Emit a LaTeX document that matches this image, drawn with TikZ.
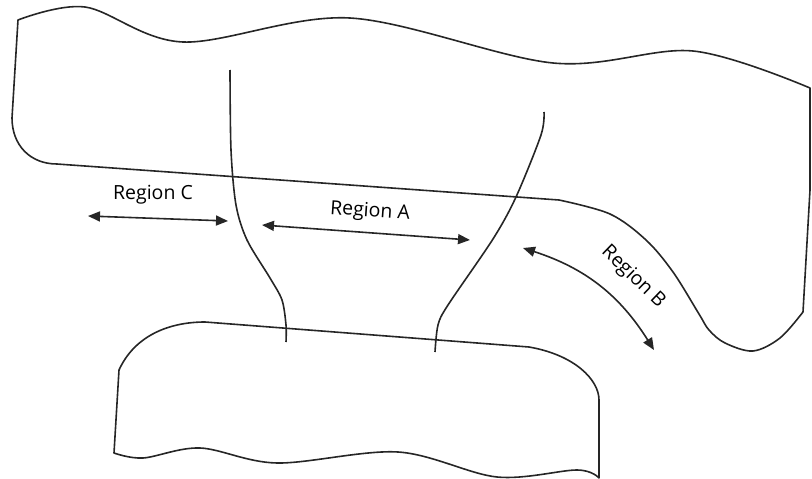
\documentclass[tikz,border=0pt]{standalone}
\usepackage{fontspec}
\setmainfont{Open Sans}
\usetikzlibrary{arrows.meta}
\begin{document}
\begin{tikzpicture}[x=1pt,y=-1pt,
  outline/.style={line width=1.6pt,black!85,line join=round},
  dim/.style={line width=1.6pt,black!85,{Triangle[length=12pt,width=10pt]}-{Triangle[length=12pt,width=10pt]}},
  lbl/.style={font=\fontsize{19.5}{22}\selectfont,inner sep=0pt}]
\useasboundingbox (0,0) rectangle (812,479);
% upper body
\draw[outline] plot[smooth,tension=0.55] coordinates {(18,20) (85,7) (183,42) (350,18) (553,63) (693,51) (810,88)}
  -- (810,190) -- (803,312)
  -- plot[smooth,tension=0.55] coordinates {(803,312) (780,338) (753,351) (725,343) (709,330) (699,314) (673,272) (646,240) (610,214) (559,200)}
  -- (57,164) .. controls (30,164) and (12,145) .. (12,118) -- cycle;
% lower body
\draw[outline] (119,370) .. controls (135,335) and (170,322) .. (205,322)
  -- (529,347) .. controls (575,355) and (599,380) .. (599,400) -- (599,478)
  -- plot[smooth,tension=0.55] coordinates {(599,478) (577,470) (497,477) (398,452) (277,463) (200,448) (143,458) (114,453)}
  -- cycle;
% dividing lines
\draw[outline] plot[smooth,tension=0.5] coordinates {(230,70) (231,150) (236,205) (247,240) (270,278) (282,300) (286,325) (286,342)};
\draw[outline] plot[smooth,tension=0.5] coordinates {(544,112) (541,135) (516,197) (493,239) (448,305) (438,325) (435,352)};
% arrows
\coordinate (c1) at (88,216); \coordinate (c2) at (228,221);
\coordinate (a1) at (262,225); \coordinate (a2) at (470,240);
\coordinate (b1) at (523,248); \coordinate (b2) at (654,350);
\draw[dim] (c1) -- (c2);
\draw[dim] (a1) -- (a2);
\draw[dim] (b1) to[bend left=20] (b2);
\node[lbl] (lc) at (153,195) {Region C};
\node[lbl,rotate=-4] (la) at (370,212) {Region A};
\node[lbl,rotate=-44] (lb) at (633,277) {Region B};
\end{tikzpicture}
\end{document}
